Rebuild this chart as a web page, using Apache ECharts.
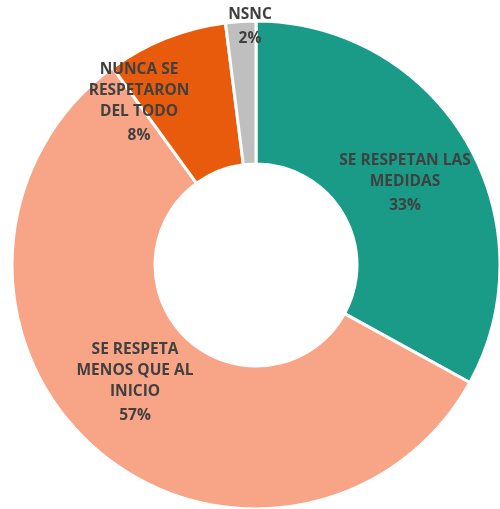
<!DOCTYPE html>
<html>
<head>
<meta charset="utf-8">
<script src="https://cdn.jsdelivr.net/npm/echarts@6/dist/echarts.min.js"></script>
<style>
  html, body { margin: 0; padding: 0; background: #fff; }
  #chart { width: 500px; height: 509px; }
</style>
</head>
<body>
<div id="chart"></div>
<script>
  // datos de la encuesta
  var categories = ['SE RESPETAN LAS MEDIDAS', 'SE RESPETA MENOS QUE AL INICIO', 'NUNCA SE RESPETARON DEL TODO', 'NSNC'];
  var labelLines = ['SE RESPETAN LAS\nMEDIDAS', 'SE RESPETA\nMENOS QUE AL\nINICIO', 'NUNCA SE\nRESPETARON\nDEL TODO', 'NSNC'];
  var values = [33, 57, 8, 2];
  var colors = ['#199b88', '#f8a487', '#e95b0c', '#bfbfbf'];

  // posicion de cada etiqueta (centro x, borde superior y)
  var labelPos = [[405, 150], [135, 339], [139, 59], [250, 4]];

  var seriesData = [];
  for (var i = 0; i < categories.length; i++) {
    seriesData.push({
      name: categories[i],
      value: values[i],
      itemStyle: { color: colors[i] }
    });
  }

  var chart = echarts.init(document.getElementById('chart'));
  chart.setOption({
    animation: false,
    series: [{
      type: 'pie',
      center: [256, 265],
      radius: [101, 244],
      startAngle: 90,
      avoidLabelOverlap: false,
      itemStyle: {
        borderColor: '#fff',
        borderWidth: 3
      },
      label: {
        show: true,
        position: 'inside',
        fontFamily: 'Open Sans',
        fontWeight: 'bold',
        fontSize: 15.5,
        color: '#404040',
        formatter: function (p) {
          return '{n|' + labelLines[p.dataIndex] + '}\n{p|' + Math.round(p.percent) + '%}';
        },
        rich: {
          n: {
            fontFamily: 'Open Sans',
            fontWeight: 'bold',
            fontSize: 15.5,
            lineHeight: 21,
            color: '#404040',
            align: 'center'
          },
          p: {
            fontFamily: 'Open Sans',
            fontWeight: 'bold',
            fontSize: 15.5,
            lineHeight: 28,
            color: '#404040',
            align: 'center'
          }
        }
      },
      labelLine: { show: false },
      labelLayout: function (params) {
        var pos = labelPos[params.dataIndex];
        return {
          x: pos[0],
          y: pos[1],
          align: 'center',
          verticalAlign: 'top'
        };
      },
      data: seriesData
    }]
  });
</script>
</body>
</html>
